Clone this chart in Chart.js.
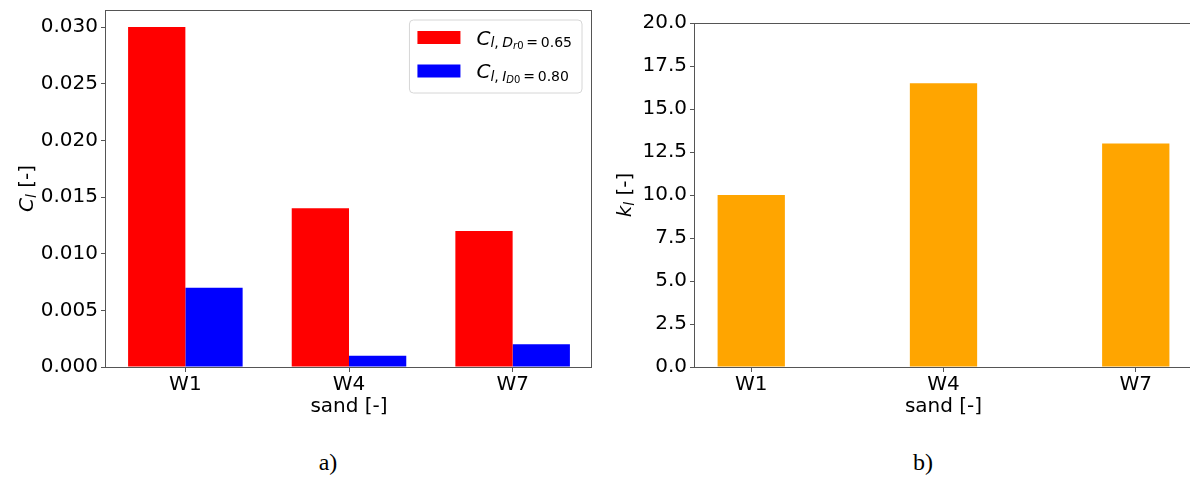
<!DOCTYPE html>
<html>
<head>
<meta charset="utf-8">
<script src="https://cdn.jsdelivr.net/npm/chart.js@4/dist/chart.umd.min.js"></script>
<style>
  html, body { margin: 0; padding: 0; background: #fff; overflow: hidden; }
  #wrap { position: relative; width: 1190px; height: 477px; overflow: hidden; background: #fff; }
  canvas { position: absolute; top: 0; }
  #chartCl { left: 0; }
  #chartKl { left: 590px; }
  .cap { position: absolute; top: 450px; width: 100px; text-align: center;
         font: 24px 'Liberation Serif', 'Times New Roman', serif; line-height: 1; color: #000; }
</style>
</head>
<body>
<div id="wrap">
  <canvas id="chartCl" width="600" height="427"></canvas>
  <canvas id="chartKl" width="610" height="427"></canvas>
  <div class="cap" style="left:278px">a)</div>
  <div class="cap" style="left:873px">b)</div>
</div>
<script>
// ---- data ----
const categories = ['W1', 'W4', 'W7'];
const clDenseValues = [0.030, 0.014, 0.012];   // C_l, D_r0 = 0.65
const clLooseValues = [0.007, 0.001, 0.002];   // C_l, I_D0 = 0.80
const klValues = [10.0, 16.5, 13.0];
const clTicks = [0, 0.005, 0.010, 0.015, 0.020, 0.025, 0.030];
const klTicks = [0, 2.5, 5, 7.5, 10, 12.5, 15, 17.5, 20];
const seriesLabels = ['$C_{l,D_{r0}=0.65}$', '$C_{l,I_{D0}=0.80}$'];
const clTitle = '$C_l$ [-]';
const klTitle = '$k_l$ [-]';
const xTitle = 'sand [-]';

// ---- small mathtext renderer: $...$ segments, _{...} subscripts, italic letters ----
const FAMILY = "'DejaVu Sans'";
const LEVEL_SIZE = [20, 14, 10];
const LEVEL_SHIFT = [0, 2.5, 4.5];

function charRun(ch, level) {
  return {
    text: ch, level: Math.min(level, 2), italic: /[A-Za-z]/.test(ch),
    padL: ch === '=' ? 0.2 : 0,
    padR: ch === '=' ? 0.2 : (ch === ',' ? 0.25 : 0)
  };
}
function mathRuns(src) {
  const runs = [];
  src.split('$').forEach((seg, k) => {
    if (k % 2 === 0) { if (seg) runs.push({ text: seg, level: 0, italic: false, padL: 0, padR: 0 }); return; }
    let i = 0;
    (function parse(level) {
      while (i < seg.length) {
        const ch = seg[i];
        if (ch === '}') { i++; return; }
        if (ch === '_') {
          i++;
          if (seg[i] === '{') { i++; parse(level + 1); }
          else { runs.push(charRun(seg[i], level + 1)); i++; }
          continue;
        }
        runs.push(charRun(ch, level));
        i++;
      }
    })(0);
  });
  return runs;
}
function runFont(r) { return (r.italic ? 'italic ' : '') + LEVEL_SIZE[r.level] + 'px ' + FAMILY; }
function mathWidth(ctx, runs) {
  let w = 0;
  for (const r of runs) {
    ctx.font = runFont(r);
    w += ctx.measureText(r.text).width + (r.padL + r.padR) * LEVEL_SIZE[r.level];
  }
  return w;
}
function drawMath(ctx, runs, x, y) {
  ctx.textAlign = 'left';
  ctx.textBaseline = 'alphabetic';
  for (const r of runs) {
    ctx.font = runFont(r);
    const s = LEVEL_SIZE[r.level];
    x += r.padL * s;
    ctx.fillText(r.text, x, y + LEVEL_SHIFT[r.level]);
    x += ctx.measureText(r.text).width + r.padR * s;
  }
  return x;
}

// ---- plugins: axes frame, math y title, legend box ----
const framePlugin = {
  id: 'frame',
  afterDatasetsDraw(chart, args, opts) {
    const { ctx, chartArea: a } = chart;
    const l = Math.round(a.left), t = Math.round(a.top), r = Math.round(a.right), b = Math.round(a.bottom);
    ctx.save();
    ctx.strokeStyle = opts.color || '#555';
    ctx.lineWidth = 1;
    ctx.strokeRect(l - 0.5, t + 0.5, r - l, b - t);
    ctx.restore();
  }
};

const mathTitlePlugin = {
  id: 'mathTitle',
  afterDraw(chart, args, opts) {
    if (!opts.text) return;
    const { ctx, chartArea: a } = chart;
    const runs = mathRuns(opts.text);
    ctx.save();
    ctx.fillStyle = '#000';
    const w = mathWidth(ctx, runs);
    ctx.translate(a.left + opts.offset, (a.top + a.bottom) / 2);
    ctx.rotate(-Math.PI / 2);
    drawMath(ctx, runs, -w / 2, 0);
    ctx.restore();
  }
};

const mathLegendPlugin = {
  id: 'mathLegend',
  afterDraw(chart, args, opts) {
    if (!opts.display) return;
    const { ctx, chartArea: a } = chart;
    const sets = chart.data.datasets;
    ctx.save();
    const items = sets.map(ds => ({ runs: mathRuns(ds.label), color: ds.backgroundColor }));
    const textW = Math.max(...items.map(it => mathWidth(ctx, it.runs)));
    const patchW = 43, patchH = 13, padL = 8, gap = 16, padR = 10, rowH = 33.5, padT = 11;
    const boxW = padL + patchW + gap + textW + padR;
    const boxH = 73;
    const right = a.right - 10, top = a.top + 10;
    const left = right - boxW;
    // rounded box
    const r = 4;
    ctx.beginPath();
    ctx.moveTo(left + r, top);
    ctx.lineTo(left + boxW - r, top);
    ctx.arcTo(left + boxW, top, left + boxW, top + r, r);
    ctx.lineTo(left + boxW, top + boxH - r);
    ctx.arcTo(left + boxW, top + boxH, left + boxW - r, top + boxH, r);
    ctx.lineTo(left + r, top + boxH);
    ctx.arcTo(left, top + boxH, left, top + boxH - r, r);
    ctx.lineTo(left, top + r);
    ctx.arcTo(left, top, left + r, top, r);
    ctx.closePath();
    ctx.fillStyle = 'rgba(255,255,255,0.8)';
    ctx.fill();
    ctx.strokeStyle = '#d6d6d6';
    ctx.lineWidth = 1;
    ctx.stroke();
    items.forEach((it, i) => {
      const py = top + padT + i * rowH;
      ctx.fillStyle = it.color;
      ctx.fillRect(left + padL, py, patchW, patchH);
      ctx.fillStyle = '#000';
      drawMath(ctx, it.runs, left + padL + patchW + gap, py + patchH / 2 + 7);
    });
    ctx.restore();
  }
};

// ---- shared axis builders ----
const TICK_FONT = { family: 'DejaVu Sans', size: 20 };
const SPINE = '#555';

function categoryAxis(min, max) {
  return {
    type: 'linear', min, max, offset: false,
    afterBuildTicks: s => { s.ticks = categories.map((c, i) => ({ value: i })); },
    afterFit: s => { s.height = 60; s.paddingLeft = 0; s.paddingRight = 0; },
    ticks: { callback: v => categories[v], color: '#000', font: TICK_FONT, padding: 1, maxRotation: 0, autoSkip: false },
    grid: { display: true, offset: false, drawOnChartArea: false, drawTicks: true, tickLength: 5, color: SPINE },
    border: { display: false },
    title: { display: true, text: xTitle, color: '#000', font: TICK_FONT, padding: { top: 0, bottom: 8 } }
  };
}
function valueAxis(max, tickValues, digits, width) {
  return {
    type: 'linear', min: 0, max,
    afterBuildTicks: s => { s.ticks = tickValues.map(v => ({ value: v })); },
    afterFit: s => { s.width = width; s.paddingTop = 0; s.paddingBottom = 0; },
    ticks: { callback: v => Number(v).toFixed(digits), color: '#000', font: TICK_FONT, padding: 3, autoSkip: false },
    grid: { display: true, drawOnChartArea: false, drawTicks: true, tickLength: 5, color: SPINE },
    border: { display: false }
  };
}
const points = vals => vals.map((v, i) => ({ x: i, y: v }));

// ---- a) C_l per sand ----
new Chart(document.getElementById('chartCl'), {
  type: 'bar',
  data: {
    datasets: [
      { label: seriesLabels[0], data: points(clDenseValues), backgroundColor: '#ff0000', borderWidth: 0 },
      { label: seriesLabels[1], data: points(clLooseValues), backgroundColor: '#0000ff', borderWidth: 0 }
    ]
  },
  options: {
    responsive: false, animation: false,
    categoryPercentage: 0.7, barPercentage: 1.0,
    layout: { padding: { top: 10, right: 8, left: 0, bottom: 0 } },
    scales: { x: categoryAxis(-0.485, 2.485), y: valueAxis(0.0315, clTicks, 3, 106) },
    plugins: {
      legend: { display: false }, tooltip: { enabled: false },
      frame: { color: SPINE },
      mathTitle: { text: clTitle, offset: -73 },
      mathLegend: { display: true }
    }
  },
  plugins: [framePlugin, mathTitlePlugin, mathLegendPlugin]
});

// ---- b) k_l per sand ----
new Chart(document.getElementById('chartKl'), {
  type: 'bar',
  data: {
    datasets: [
      { label: 'k_l', data: points(klValues), backgroundColor: '#ffa500', borderWidth: 0 }
    ]
  },
  options: {
    responsive: false, animation: false,
    categoryPercentage: 0.35, barPercentage: 1.0,
    layout: { padding: { top: 23, right: 8, left: 0, bottom: 0 } },
    scales: { x: categoryAxis(-0.2925, 2.2925), y: valueAxis(20, klTicks, 1, 105) },
    plugins: {
      legend: { display: false }, tooltip: { enabled: false },
      frame: { color: SPINE },
      mathTitle: { text: klTitle, offset: -64 },
      mathLegend: { display: false }
    }
  },
  plugins: [framePlugin, mathTitlePlugin, mathLegendPlugin]
});
</script>
</body>
</html>
